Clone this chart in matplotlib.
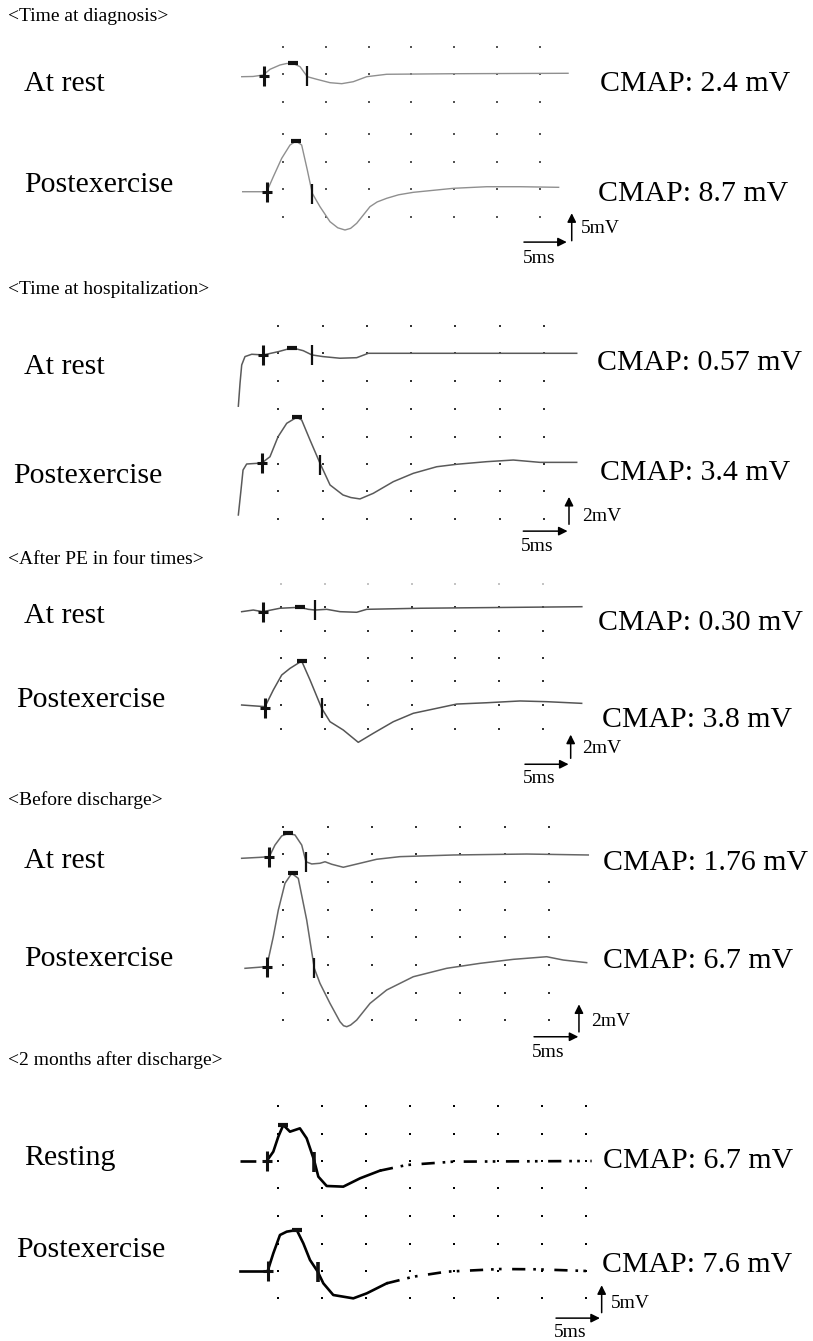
import matplotlib
import numpy as np

matplotlib.use('Agg')
import matplotlib.pyplot as plt

W, H = 813, 1341
SERIF = ['Liberation Serif', 'DejaVu Serif']

# ---- waveforms: time in ms, amplitude in mV ----
diag_rest_t = [0.18, 1.5, 2.7, 3.48, 4.65, 5.4, 6.13, 6.99, 7.84, 8.94, 10.49, 11.86, 13.21, 14.78, 17.11, 24.9, 38.3]
diag_rest_mv = [-0.49, -0.45, -0.18, 0.85, 1.64, 1.9, 1.95, 1.33, -0.49, -0.96, -1.58, -1.76, -1.40, -0.49, -0.05, 0.05, 0.13]
diag_post_t = [0.29, 3.10, 3.87, 4.85, 5.82, 6.52, 7.18, 7.84, 8.42, 9.32, 10.49, 11.4, 12.24, 12.9, 13.61, 15.16,
               16.0, 17.11, 18.5, 20.22, 24.9, 28.8, 32.7, 37.2]
diag_post_mv = [-0.44, -0.44, 2.29, 5.64, 8.05, 8.78, 8.05, 3.51, -0.73, -3.16, -5.89, -7.0, -7.40, -7.1, -6.18, -3.16,
                -2.3, -1.64, -1.0, -0.55, 0.18, 0.47, 0.47, 0.36]

hosp_rest_t = [0.49, 0.68, 0.87, 1.24, 2.0, 3.31, 5.0, 6.58, 7.82, 8.80, 10.04, 11.96, 13.85, 15.16, 38.68]
hosp_rest_mv = [-3.86, -2.19, -0.85, -0.24, -0.07, -0.12, 0.12, 0.40, 0.19, -0.12, -0.24, -0.36, -0.32, 0.0, 0.0]
hosp_post_t = [0.49, 0.79, 1.02, 1.43, 3.13, 4.06, 4.97, 5.95, 7.08, 7.64, 8.58, 9.71, 10.84, 12.30, 13.2, 14.22,
               15.72, 17.98, 20.24, 22.88, 25.14, 28.52, 31.52, 34.54, 38.68]
hosp_post_mv = [-3.72, -1.9, -0.44, 0.0, 0.07, 0.53, 1.99, 2.97, 3.41, 3.21, 1.75, 0.05, -1.53, -2.26, -2.45, -2.55,
                -2.14, -1.29, -0.68, -0.20, -0.02, 0.17, 0.29, 0.12, 0.12]

pe_rest_t = [0.49, 1.82, 2.90, 4.89, 7.18, 8.13, 8.90, 10.24, 11.77, 13.68, 14.83, 20.94, 39.5]
pe_rest_mv = [-0.37, -0.23, -0.37, -0.08, 0.0, -0.17, -0.23, -0.17, -0.37, -0.42, -0.17, -0.08, 0.05]
pe_post_t = [0.49, 3.17, 4.12, 5.08, 6.03, 7.37, 8.33, 9.67, 10.62, 12.14, 13.86, 15.58, 17.88, 20.17, 22.86, 25.15,
             28.59, 32.41, 35.47, 39.48]
pe_post_mv = [0.0, -0.14, 1.27, 2.53, 3.09, 3.71, 2.11, -0.28, -1.41, -2.11, -3.15, -2.39, -1.41, -0.70, -0.28, 0.08,
              0.19, 0.34, 0.28, 0.14]

dis_rest_t = [0.30, 2.37, 3.42, 4.06, 4.82, 5.56, 6.32, 7.08, 7.56, 8.21, 9.14, 9.71, 10.46, 11.77, 13.66, 15.54,
              18.17, 24.19, 32.47, 39.42]
dis_rest_mv = [-0.29, -0.22, -0.17, 0.67, 1.33, 1.52, 1.40, 0.67, -0.54, -0.70, -0.65, -0.54, -0.72, -0.94, -0.65,
               -0.36, -0.17, -0.05, 0.02, -0.05]
dis_post_t = [0.68, 3.13, 3.87, 4.44, 5.19, 5.95, 6.69, 7.64, 8.50, 9.14, 10.27, 11.40, 11.8, 12.16, 12.6, 13.28,
              14.79, 16.67, 19.67, 23.44, 27.20, 30.96, 34.73, 36.6, 39.24]
dis_post_mv = [-0.24, -0.12, 2.05, 3.99, 5.92, 6.64, 6.28, 3.26, -0.24, -1.33, -2.78, -4.11, -4.4, -4.47, -4.35, -3.99,
               -2.78, -1.81, -0.85, -0.24, 0.12, 0.41, 0.60, 0.36, 0.17]

fu_rest_t = [0.64, 2.15, 3.68, 4.43, 5.0, 5.57, 6.33, 7.46, 8.23, 9.07, 9.56, 10.51, 12.40, 14.31, 16.58, 19.62,
             24.93, 40.69]
fu_rest_mv = [0, 0, 0, 1.70, 4.44, 6.57, 5.35, 5.96, 4.14, 0.18, -2.86, -4.56, -4.68, -3.16, -1.76, -0.73, -0.12, 0]
fu_post_t = [0.64, 3.79, 4.43, 5.19, 5.96, 7.10, 7.85, 8.61, 9.49, 10.13, 11.26, 13.54, 15.07, 17.35, 20.38, 24.18,
             30.25, 34.43, 40.12]
fu_post_mv = [0, 0, 3.22, 6.57, 7.18, 7.48, 5.05, 2.01, -0.12, -2.25, -4.38, -4.99, -4.08, -2.25, -1.04, -0.12, 0.36,
              0.31, 0]

# cursor marks (ms, mV): onset "+", negative peak bar, end "|"
onset_marks = [(2.82, -0.3), (3.10, -0.44), (3.31, -0.12), (3.13, 0.07), (2.90, -0.37), (3.17, -0.25),
               (3.42, -0.17), (3.13, -0.12), (3.68, 0.0), (3.79, 0.0)]
peak_marks = [(6.13, 2.0), (6.52, 8.8), (6.58, 0.40), (7.08, 3.41), (7.18, 0.0), (7.37, 3.71),
              (5.56, 1.55), (6.05, 6.64), (5.57, 6.57), (7.10, 7.48)]
end_marks = [(7.84, -0.36), (8.42, -0.9), (8.80, -0.12), (9.71, -0.1), (8.90, -0.23), (9.67, -0.28),
             (7.56, -0.54), (8.50, -0.24), (9.07, -0.1), (9.49, -0.12)]

section_titles = ['<Time at diagnosis>', '<Time at hospitalization>', '<After PE in four times>',
                  '<Before discharge>', '<2 months after discharge>']
trace_labels = ['At rest', 'Postexercise'] * 4 + ['Resting', 'Postexercise']
cmap_values = ['2.4', '8.7', '0.57', '3.4', '0.30', '3.8', '1.76', '6.7', '6.7', '7.6']
scale_ms = [5, 5, 5, 5, 5]
scale_mv = [5, 2, 2, 2, 5]
grid_ms = [[5, 10, 15, 20, 25, 30, 35]] * 4 + [[5, 10, 15, 20, 25, 30, 35, 40]]
grid_rows = [([-5, 0, 5], [-5, 0, 5, 10]),
             ([-2, 0, 2], [-4, -2, 0, 2, 4]),
             ([-2, 0, 2], [-2, 0, 2, 4]),
             ([-2, 0, 2], [-4, -2, 0, 2, 4]),
             ([-5, 0, 5, 10], [-5, 0, 5, 10])]

traces = [(diag_rest_t, diag_rest_mv), (diag_post_t, diag_post_mv),
          (hosp_rest_t, hosp_rest_mv), (hosp_post_t, hosp_post_mv),
          (pe_rest_t, pe_rest_mv), (pe_post_t, pe_post_mv),
          (dis_rest_t, dis_rest_mv), (dis_post_t, dis_post_mv),
          (fu_rest_t, fu_rest_mv), (fu_post_t, fu_post_mv)]

# ---- layout (pixels of the 813x1341 page) ----
# per section: x of t=0, px per ms, px per mV, baseline y of the two traces
layout = [
    dict(t0=240.2, pxms=8.56, pxmv=5.5, base=(74.0, 189.3), color='#8f8f8f', lw=1.0, dot='#555555', ds=1.5),
    dict(t0=234.0, pxms=8.86, pxmv=13.7, base=(353.3, 464.0), color='#5a5a5a', lw=1.1, dot='#333333', ds=1.8),
    dict(t0=237.4, pxms=8.72, pxmv=11.85, base=(607.3, 705.0), color='#555555', lw=1.1, dot='#333333', ds=1.8),
    dict(t0=239.0, pxms=8.86, pxmv=13.8, base=(854.3, 965.0), color='#666666', lw=1.1, dot='#333333', ds=1.8),
    dict(t0=234.4, pxms=8.78, pxmv=5.48, base=(1161.0, 1271.0), color='black', lw=1.9, dot='black', ds=2.4),
]
faint_row = {4: 2}  # top grid row of the "After PE" resting trace is barely printed
title_pos = [(8, 20.7), (8, 294), (8, 564), (8, 805), (8, 1065)]
label_pos = [(24, 90.7), (24, 191.7), (24, 374), (13, 482.7), (24, 623.3), (16, 707.3),
             (24, 868.3), (24, 966), (24, 1165), (16, 1257.3)]
cmap_pos = [(600, 90.7), (598, 200.7), (597, 370), (600, 480), (598, 630), (602, 726.7),
            (603, 870), (603, 968.3), (603, 1168.3), (602, 1271.7)]
# scale bar origin in the lower trace's data units (ms, mV)
bar_origin = [(33.15, -9.6), (32.65, -4.9), (32.98, -5.0), (33.30, -5.2), (36.63, -8.6)]
bar_v_origin = [(38.73, -9.35), (37.81, -4.4), (38.22, -4.5), (38.37, -4.85), (41.83, -7.6)]
mv_text_pos = [(581, 233.3), (582, 520.7), (582, 753.3), (591, 1026), (611, 1308.3)]
ms_text_pos = [(523, 263.3), (521, 550.7), (523, 783.3), (532, 1056.7), (554, 1336.7)]

fig = plt.figure(figsize=(W / 100, H / 100), dpi=100)
fig.patch.set_facecolor('white')

page = fig.add_axes([0, 0, 1, 1])
page.set_xlim(0, W)
page.set_ylim(H, 0)
page.axis('off')


def trace_axes(t0, pxms, base, pxmv):
    half = 90.0
    tlo, thi = -5.0, 48.0
    ax = fig.add_axes([(t0 + tlo * pxms) / W, (H - base - half) / H, (thi - tlo) * pxms / W, 2 * half / H])
    ax.set_xlim(tlo, thi)
    ax.set_ylim(-half / pxmv, half / pxmv)
    ax.axis('off')
    ax.patch.set_alpha(0)
    return ax


for s, lay in enumerate(layout):
    page.text(*title_pos[s], section_titles[s], family=SERIF, fontsize=14, va='baseline')
    for k in range(2):
        i = 2 * s + k
        ax = trace_axes(lay['t0'], lay['pxms'], lay['base'][k], lay['pxmv'])

        gx, gy = np.meshgrid(grid_ms[s], grid_rows[s][k])
        gx, gy = gx.ravel(), gy.ravel()
        faint = gy == faint_row.get(i, np.nan)
        ax.scatter(gx[~faint], gy[~faint], s=lay['ds'], marker='s', color=lay['dot'], linewidths=0,
                   clip_on=False, zorder=1)
        ax.scatter(gx[faint], gy[faint], s=lay['ds'], marker='s', color='#c4c4c4', linewidths=0,
                   clip_on=False, zorder=1)

        t, v = np.array(traces[i][0]), np.array(traces[i][1])
        if s == 4:
            # last recording is printed with broken strokes on the flat parts
            onset_t = onset_marks[i][0]
            tail_t = 16.58 if k == 0 else 17.35
            mid = (t >= onset_t) & (t <= tail_t)
            ax.plot(t[mid], v[mid], color=lay['color'], lw=lay['lw'], clip_on=False, zorder=2,
                    solid_joinstyle='round')
            tail = t >= tail_t
            ax.plot(t[tail], v[tail], color=lay['color'], lw=lay['lw'], clip_on=False, zorder=2,
                    ls=(0, (5, 3, 1, 2, 1, 4)))
            head = t <= onset_t
            ax.plot(t[head], v[head], color=lay['color'], lw=lay['lw'], clip_on=False, zorder=2,
                    ls=(0, (6, 3, 1, 3)) if k == 0 else '-')
        else:
            ax.plot(t, v, color=lay['color'], lw=lay['lw'], clip_on=False, zorder=2, solid_joinstyle='round')

        mk = '#111111'
        ax.plot(*onset_marks[i], marker='|', ms=14, mew=2.2, color=mk, clip_on=False, zorder=3)
        ax.plot(*onset_marks[i], marker='_', ms=7, mew=2.2, color=mk, clip_on=False, zorder=3)
        ax.plot(*peak_marks[i], marker='_', ms=7.5, mew=3.0, color=mk, clip_on=False, zorder=3)
        ax.plot(*end_marks[i], marker='|', ms=14, mew=2.6 if s == 4 else 1.6, color=mk, clip_on=False, zorder=3)

        page.text(*label_pos[i], trace_labels[i], family=SERIF, fontsize=21.5, va='baseline')
        page.text(*cmap_pos[i], 'CMAP: {} mV'.format(cmap_values[i]), family=SERIF, fontsize=21.5,
                  va='baseline')

        if k == 1:
            arrow = dict(arrowstyle='-|>', mutation_scale=13, lw=1.1, color='black', shrinkA=0, shrinkB=0)
            bx, by = bar_origin[s]
            ax.annotate('', xy=(bx + scale_ms[s], by), xytext=(bx, by), arrowprops=arrow,
                        annotation_clip=False)
            vx, vy = bar_v_origin[s]
            ax.annotate('', xy=(vx, vy + scale_mv[s]), xytext=(vx, vy), arrowprops=arrow,
                        annotation_clip=False)
            page.text(*mv_text_pos[s], '{}mV'.format(scale_mv[s]), family=SERIF, fontsize=14, va='baseline')
            page.text(*ms_text_pos[s], '{}ms'.format(scale_ms[s]), family=SERIF, fontsize=14, va='baseline')

fig.savefig('out.png', dpi=100, facecolor='white')
